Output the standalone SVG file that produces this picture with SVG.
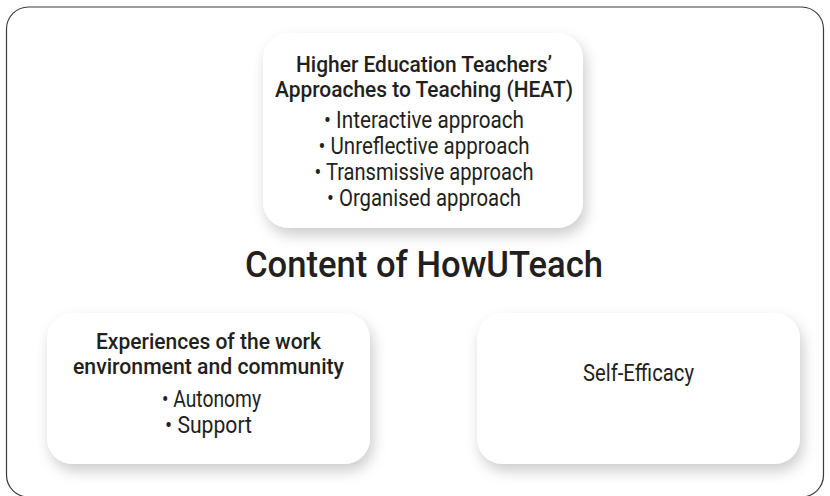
<svg xmlns="http://www.w3.org/2000/svg" width="830" height="496" viewBox="0 0 830 496">
  <defs>
    <filter id="soft-shadow" x="-20%" y="-20%" width="150%" height="160%">
      <feDropShadow dx="3" dy="7" stdDeviation="7" flood-color="#000" flood-opacity="0.2"/>
    </filter>
  </defs>
  <style>
    .frame { fill: #ffffff; stroke: #3a3a3a; stroke-width: 1.2; }
    .card { fill: #ffffff; filter: url(#soft-shadow); }
    text { font-family: Roboto, "Liberation Sans", sans-serif; fill: #231f20; text-anchor: middle; }
    .head { font-size: 22.5px; font-weight: 500; }
    .item { font-size: 23px; font-weight: 400; }
    .title { font-size: 36px; font-weight: 500; }
  </style>

  <rect width="830" height="496" fill="#ffffff"/>

  <!-- outer frame -->
  <g id="frame">
    <rect class="frame" x="6.5" y="7" width="817" height="490" rx="22"/>
  </g>

  <!-- central title -->
  <g id="title">
    <text class="title" x="424" y="277" textLength="358" lengthAdjust="spacingAndGlyphs">Content of HowUTeach</text>
  </g>

  <!-- approaches to teaching -->
  <g id="heat">
    <rect class="card" x="263" y="33" width="320" height="195" rx="26"/>
    <text class="head" x="424" y="72" textLength="256" lengthAdjust="spacingAndGlyphs">Higher Education Teachers’</text>
    <text class="head" x="424" y="97" textLength="298" lengthAdjust="spacingAndGlyphs">Approaches to Teaching (HEAT)</text>
    <text class="item" x="424" y="128" textLength="200" lengthAdjust="spacingAndGlyphs">• Interactive approach</text>
    <text class="item" x="424" y="154" textLength="211" lengthAdjust="spacingAndGlyphs">• Unreflective approach</text>
    <text class="item" x="424" y="180" textLength="219" lengthAdjust="spacingAndGlyphs">• Transmissive approach</text>
    <text class="item" x="424" y="206" textLength="194" lengthAdjust="spacingAndGlyphs">• Organised approach</text>
  </g>

  <!-- work environment -->
  <g id="work-environment">
    <rect class="card" x="47" y="313" width="323" height="151" rx="26"/>
    <text class="head" x="208.5" y="349" textLength="225" lengthAdjust="spacingAndGlyphs">Experiences of the work</text>
    <text class="head" x="208.5" y="374" textLength="271" lengthAdjust="spacingAndGlyphs">environment and community</text>
    <text class="item" x="211.5" y="407" textLength="99" lengthAdjust="spacingAndGlyphs">• Autonomy</text>
    <text class="item" x="208.5" y="433" textLength="87" lengthAdjust="spacingAndGlyphs">• Support</text>
  </g>

  <!-- self-efficacy -->
  <g id="self-efficacy">
    <rect class="card" x="477" y="313" width="323" height="151" rx="26"/>
    <text class="item" x="638.5" y="381" textLength="111" lengthAdjust="spacingAndGlyphs">Self-Efficacy</text>
  </g>

  <!-- no connectors in this diagram -->
  <g id="connectors"/>
</svg>
